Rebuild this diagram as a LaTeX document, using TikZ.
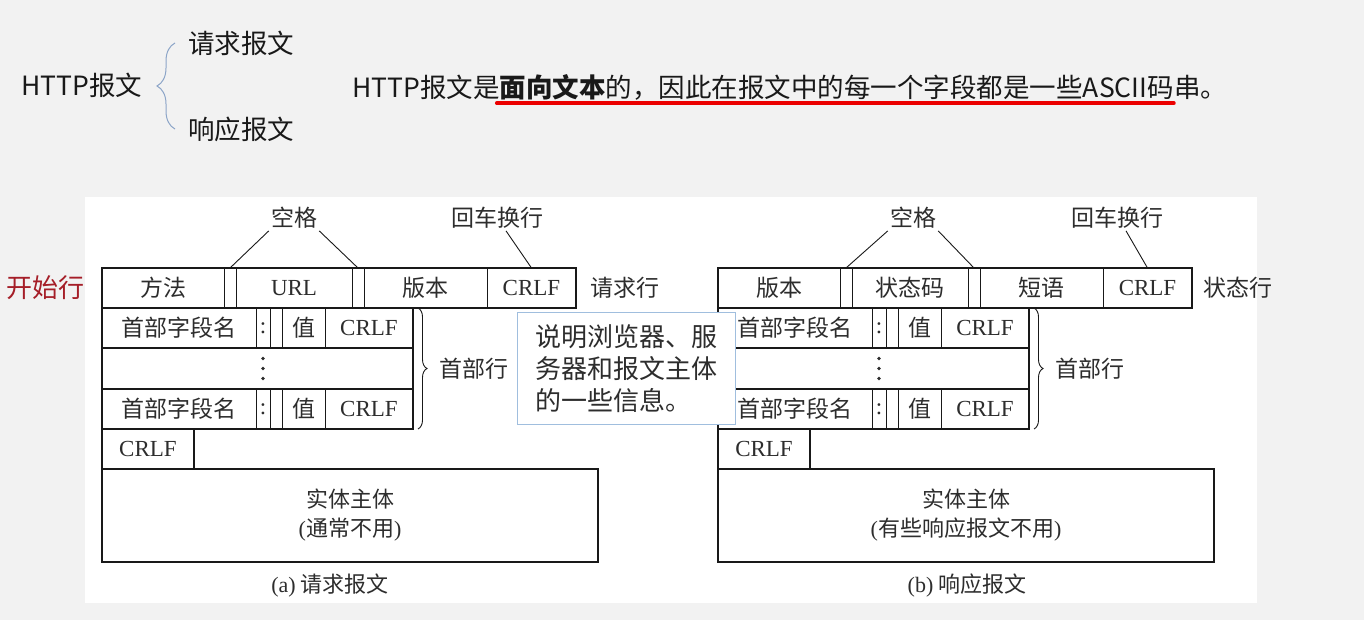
\documentclass[tikz,border=0pt]{standalone}
\usepackage{fontspec}
\setmainfont{Liberation Serif}
\newfontfamily\cjk{Noto Sans CJK SC}
\usepackage{tikz}
\usetikzlibrary{positioning, calc, decorations.pathreplacing}
\usepackage{xcolor}
\definecolor{cBack}{RGB}{242, 242, 242}
\definecolor{cPanel}{RGB}{255, 255, 255}
\definecolor{bNote}{RGB}{160, 190, 222}
\definecolor{bBrace}{RGB}{140, 165, 200}
\definecolor{tRed}{RGB}{165, 30, 40}
\definecolor{lRed}{RGB}{235, 0, 0}
\definecolor{tDark}{RGB}{25, 25, 25}
\definecolor{tGray}{RGB}{45, 45, 45}

\begin{document}
\begin{tikzpicture}[
    x=1pt, y=-1pt,
    font=\cjk,
    cell/.style={
        draw=tDark,
        line width=0.8pt,
        minimum height=40pt,
        inner sep=0pt,
        outer sep=0pt,
        text=tGray,
        font=\cjk\fontsize{23}{27}\selectfont
    },
    lat/.style={font=\rmfamily\fontsize{23}{27}\selectfont},
    frame/.style={draw=tDark, line width=1.6pt},
    lbl/.style={text=tGray, inner sep=2pt, font=\cjk\fontsize{23}{27}\selectfont},
    top/.style={text=tDark, inner sep=0pt, font=\cjk\fontsize{26.5}{30}\selectfont},
    pointer/.style={line width=0.9pt, color=tDark},
    hbrace/.style={decorate, decoration={brace, amplitude=9pt}, line width=0.9pt, color=tDark},
    tbrace/.style={decorate, decoration={brace, amplitude=18pt}, line width=1pt, color=bBrace},
    uline/.style={line width=3.5pt, color=lRed, line cap=round},
    noteBox/.style={
        draw=bNote,
        fill=white,
        line width=1pt,
        align=left,
        inner sep=0pt,
        text=tGray,
        font=\cjk\fontsize{26}{32}\selectfont
    }
]

\useasboundingbox (0,0) rectangle (1364,620);
\fill[cBack] (0,0) rectangle (1364,620);
\fill[cPanel] (85,197) rectangle (1257,603);

% heading
\node[top] (http) at (82,85) {HTTP报文};
\node[top, anchor=west] (tReq) at (188,43) {请求报文};
\node[top, anchor=west] (tRsp) at (188,129) {响应报文};
\draw[tbrace] ([xshift=-13pt]tRsp.west) -- ([xshift=-13pt]tReq.west);

\node[top, anchor=west] (s1) at (352,87) {HTTP报文是};
\node[top, anchor=base west] (s2) at (s1.base east) {{\bfseries 面向文本}的，因此在报文中的每一个字段都是一些ASCII码};
\node[top, anchor=base west] (s3) at (s2.base east) {串。};
\draw[uline] ([xshift=-3pt, yshift=-3pt]s2.south west) -- ([yshift=-3pt]s2.south east);

\node[text=tRed, inner sep=0pt, font=\cjk\fontsize{26}{30}\selectfont] (startLbl) at (45,288) {开始行};

% (a) request message
\node[cell, minimum width=122, anchor=north west] (qMethod) at (102,268) {方法};
\node[cell, minimum width=12, right=0pt of qMethod] (qGapA) {};
\node[cell, lat, minimum width=116, right=0pt of qGapA] (qUrl) {URL};
\node[cell, minimum width=12, right=0pt of qUrl] (qGapB) {};
\node[cell, minimum width=123, right=0pt of qGapB] (qVer) {版本};
\node[cell, lat, minimum width=89, right=0pt of qVer] (qCrlf) {CRLF};

\node[cell, minimum width=154, anchor=north west] (qH1Name) at (qMethod.south west) {首部字段名};
\node[cell, lat, minimum width=14, right=0pt of qH1Name] (qH1Colon) {:};
\node[cell, minimum width=12, right=0pt of qH1Colon] (qH1Gap) {};
\node[cell, minimum width=43, right=0pt of qH1Gap] (qH1Val) {值};
\node[cell, lat, minimum width=88, right=0pt of qH1Val] (qH1Crlf) {CRLF};

\node[cell, minimum width=311, minimum height=41, anchor=north west] (qDots) at (qH1Name.south west) {};
\coordinate (qVdots) at (qDots.center -| qH1Colon.center);
\foreach \dy in {-10,0,10}
    \fill[tGray] ([yshift=\dy pt]qVdots) circle (1.9pt);

\node[cell, minimum width=154, anchor=north west] (qH3Name) at (qDots.south west) {首部字段名};
\node[cell, lat, minimum width=14, right=0pt of qH3Name] (qH3Colon) {:};
\node[cell, minimum width=12, right=0pt of qH3Colon] (qH3Gap) {};
\node[cell, minimum width=43, right=0pt of qH3Gap] (qH3Val) {值};
\node[cell, lat, minimum width=88, right=0pt of qH3Val] (qH3Crlf) {CRLF};

\node[cell, lat, minimum width=92, anchor=north west] (qEnd) at (qH3Name.south west) {CRLF};
\node[cell, minimum width=496, minimum height=93, anchor=north west, align=center,
      font=\cjk\fontsize{22}{29}\selectfont] (qBody) at (qEnd.south west)
      {实体主体\\{\rmfamily(}通常不用{\rmfamily)}};

\draw[frame] (qMethod.north west) rectangle (qCrlf.south east);
\draw[frame] (qH1Name.north west) rectangle (qH1Crlf.south east);
\draw[frame] (qDots.north west) rectangle (qDots.south east);
\draw[frame] (qH3Name.north west) rectangle (qH3Crlf.south east);
\draw[frame] (qEnd.north west) rectangle (qEnd.south east);
\draw[frame] (qBody.north west) rectangle (qBody.south east);

\node[lbl] (qSpace) at (294,218) {空格};
\node[lbl] (qCr) at (497,218) {回车换行};
\node[lbl, right=12pt of qCrlf] (qLineLbl) {请求行};
\draw[pointer] (qSpace.south west) -- (qGapA.north);
\draw[pointer] (qSpace.south east) -- (qGapB.north);
\draw[pointer] ([xshift=9pt]qCr.south) -- (qCrlf.north);

\draw[hbrace] ([xshift=5pt]qH1Crlf.north east) -- ([xshift=5pt]qH3Crlf.south east);
\node[lbl, anchor=west] (qHdrLbl) at ([xshift=24pt]qDots.east) {首部行};

\node[lbl, font=\cjk\fontsize{22}{26}\selectfont] (qCap) at (330,586) {{\rmfamily (a)} 请求报文};

% (b) response message
\node[cell, minimum width=122, anchor=north west] (pVer) at (718,268) {版本};
\node[cell, minimum width=12, right=0pt of pVer] (pGapA) {};
\node[cell, minimum width=116, right=0pt of pGapA] (pCode) {状态码};
\node[cell, minimum width=12, right=0pt of pCode] (pGapB) {};
\node[cell, minimum width=123, right=0pt of pGapB] (pPhrase) {短语};
\node[cell, lat, minimum width=89, right=0pt of pPhrase] (pCrlf) {CRLF};

\node[cell, minimum width=154, anchor=north west] (pH1Name) at (pVer.south west) {首部字段名};
\node[cell, lat, minimum width=14, right=0pt of pH1Name] (pH1Colon) {:};
\node[cell, minimum width=12, right=0pt of pH1Colon] (pH1Gap) {};
\node[cell, minimum width=43, right=0pt of pH1Gap] (pH1Val) {值};
\node[cell, lat, minimum width=88, right=0pt of pH1Val] (pH1Crlf) {CRLF};

\node[cell, minimum width=311, minimum height=41, anchor=north west] (pDots) at (pH1Name.south west) {};
\coordinate (pVdots) at (pDots.center -| pH1Colon.center);
\foreach \dy in {-10,0,10}
    \fill[tGray] ([yshift=\dy pt]pVdots) circle (1.9pt);

\node[cell, minimum width=154, anchor=north west] (pH3Name) at (pDots.south west) {首部字段名};
\node[cell, lat, minimum width=14, right=0pt of pH3Name] (pH3Colon) {:};
\node[cell, minimum width=12, right=0pt of pH3Colon] (pH3Gap) {};
\node[cell, minimum width=43, right=0pt of pH3Gap] (pH3Val) {值};
\node[cell, lat, minimum width=88, right=0pt of pH3Val] (pH3Crlf) {CRLF};

\node[cell, lat, minimum width=92, anchor=north west] (pEnd) at (pH3Name.south west) {CRLF};
\node[cell, minimum width=496, minimum height=93, anchor=north west, align=center,
      font=\cjk\fontsize{22}{29}\selectfont] (pBody) at (pEnd.south west)
      {实体主体\\{\rmfamily(}有些响应报文不用{\rmfamily)}};

\draw[frame] (pVer.north west) rectangle (pCrlf.south east);
\draw[frame] (pH1Name.north west) rectangle (pH1Crlf.south east);
\draw[frame] (pDots.north west) rectangle (pDots.south east);
\draw[frame] (pH3Name.north west) rectangle (pH3Crlf.south east);
\draw[frame] (pEnd.north west) rectangle (pEnd.south east);
\draw[frame] (pBody.north west) rectangle (pBody.south east);

\node[lbl] (pSpace) at (913,218) {空格};
\node[lbl] (pCr) at (1117,218) {回车换行};
\node[lbl, right=9pt of pCrlf] (pLineLbl) {状态行};
\draw[pointer] (pSpace.south west) -- (pGapA.north);
\draw[pointer] (pSpace.south east) -- (pGapB.north);
\draw[pointer] ([xshift=9pt]pCr.south) -- (pCrlf.north);

\draw[hbrace] ([xshift=5pt]pH1Crlf.north east) -- ([xshift=5pt]pH3Crlf.south east);
\node[lbl, anchor=west] (pHdrLbl) at ([xshift=24pt]pDots.east) {首部行};

\node[lbl, font=\cjk\fontsize{22}{26}\selectfont] (pCap) at (967,586) {{\rmfamily (b)} 响应报文};

% note on top
\node[noteBox, minimum width=218, minimum height=112, anchor=north west] (infoNote) at (517,312)
    {说明浏览器、服\\务器和报文主体\\的一些信息。};

\end{tikzpicture}
\end{document}
